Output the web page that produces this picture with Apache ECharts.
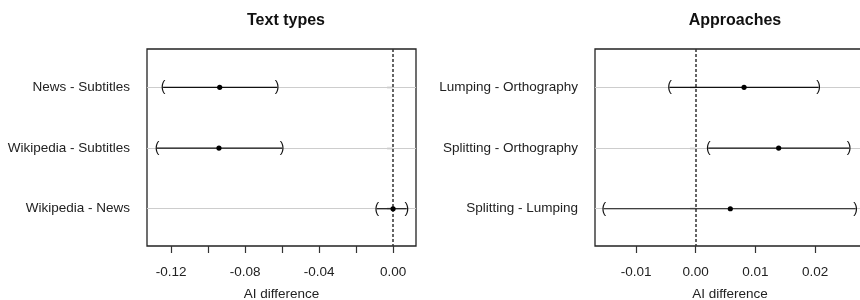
<!DOCTYPE html>
<html>
<head>
<meta charset="utf-8">
<script src="https://cdn.jsdelivr.net/npm/echarts@6/dist/echarts.min.js"></script>
<style>
  html, body { margin: 0; padding: 0; background: #fff; }
  #chart { width: 860px; height: 300px; }
</style>
</head>
<body>
<div id="chart"></div>
<script>
// left panel: text types
const textTypes = ['News - Subtitles', 'Wikipedia - Subtitles', 'Wikipedia - News'];
const textLow = [-0.1243, -0.1276, -0.0088];
const textEst = [-0.0937, -0.0941, 0.0];
const textHigh = [-0.0627, -0.0600, 0.0074];
const textTicks = [-0.12, -0.10, -0.08, -0.06, -0.04, -0.02, 0.00];
const textTickLabels = [-0.12, -0.08, -0.04, 0.00];

// right panel: approaches
const approaches = ['Lumping - Orthography', 'Splitting - Orthography', 'Splitting - Lumping'];
const apprLow = [-0.0044, 0.0021, -0.0154];
const apprEst = [0.0081, 0.0139, 0.0058];
const apprHigh = [0.0206, 0.0257, 0.0268];
const apprTicks = [-0.01, 0.00, 0.01, 0.02];

const rows = [1, 2, 3];
const font = 'Liberation Sans, Arial, Helvetica, sans-serif';

function renderCI(params, api) {
  const lo = api.coord([api.value(0), api.value(3)]);
  const mid = api.coord([api.value(1), api.value(3)]);
  const hi = api.coord([api.value(2), api.value(3)]);
  return {
    type: 'group',
    children: [
      { type: 'line', shape: { x1: lo[0], y1: lo[1], x2: hi[0], y2: hi[1] },
        style: { stroke: '#111', lineWidth: 1.2 }, z2: 3 },
      { type: 'text', x: lo[0], y: lo[1],
        style: { text: '(', fill: '#111', font: '14px ' + font, align: 'center', verticalAlign: 'middle' }, z2: 3 },
      { type: 'text', x: hi[0], y: hi[1],
        style: { text: ')', fill: '#111', font: '14px ' + font, align: 'center', verticalAlign: 'middle' }, z2: 3 },
      { type: 'circle', shape: { cx: mid[0], cy: mid[1], r: 2.6 },
        style: { fill: '#000' }, z2: 4 }
    ]
  };
}

function xAxisOf(idx, min, max, ticks, labels) {
  return {
    gridIndex: idx, type: 'value', min: min, max: max,
    name: 'AI difference', nameLocation: 'middle', nameGap: 41,
    nameTextStyle: { fontFamily: font, fontSize: 13.5, color: '#222' },
    axisLine: { show: false },
    splitLine: { show: false },
    axisTick: { show: true, length: 7, customValues: ticks, lineStyle: { color: '#333', width: 1.2 } },
    axisLabel: { customValues: labels, margin: 19, fontFamily: font, fontSize: 13.5, color: '#222',
      formatter: v => v.toFixed(2) }
  };
}

function yAxisOf(idx, cats) {
  return {
    gridIndex: idx, type: 'value', inverse: true, min: 0.368, max: 3.614,
    axisLine: { show: false },
    splitLine: { show: false },
    axisTick: { show: true, length: 6, customValues: rows, lineStyle: { color: '#333', width: 1.2 } },
    axisLabel: { customValues: rows, margin: 17, fontFamily: font, fontSize: 13.5, color: '#222',
      formatter: v => cats[Math.round(v) - 1] }
  };
}

function seriesOf(idx, lo, est, hi) {
  return [
    {
      // light row guides
      type: 'line', xAxisIndex: idx, yAxisIndex: idx, data: [],
      markLine: {
        z: 1, silent: true, symbol: 'none', label: { show: false }, animation: false,
        lineStyle: { color: '#cdcdcd', type: 'solid', width: 1 },
        data: rows.map(r => ({ yAxis: r }))
      }
    },
    {
      // dashed zero line
      type: 'line', xAxisIndex: idx, yAxisIndex: idx, data: [],
      markLine: {
        z: 2, silent: true, symbol: 'none', label: { show: false }, animation: false,
        lineStyle: { color: '#333', type: [3, 2], width: 1.5 },
        data: [{ xAxis: 0 }]
      }
    },
    {
      type: 'custom', xAxisIndex: idx, yAxisIndex: idx,
      renderItem: renderCI, clip: false, z: 10,
      data: rows.map((r, i) => [lo[i], est[i], hi[i], r])
    }
  ];
}

const chart = echarts.init(document.getElementById('chart'));
chart.setOption({
  animation: false,
  backgroundColor: '#fff',
  title: [
    { text: 'Text types', left: 281, top: 8, textAlign: 'center',
      textStyle: { fontFamily: font, fontSize: 16, fontWeight: 'bold', color: '#111' } },
    { text: 'Approaches', left: 730, top: 8, textAlign: 'center',
      textStyle: { fontFamily: font, fontSize: 16, fontWeight: 'bold', color: '#111' } }
  ],
  grid: [
    { left: 147, top: 49, width: 269, height: 197, outerBoundsMode: 'none', containLabel: false,
      show: true, borderColor: '#222', borderWidth: 1.3, backgroundColor: 'transparent' },
    { left: 595, top: 49, width: 270, height: 197, outerBoundsMode: 'none', containLabel: false,
      show: true, borderColor: '#222', borderWidth: 1.3, backgroundColor: 'transparent' }
  ],
  xAxis: [
    xAxisOf(0, -0.133, 0.0124, textTicks, textTickLabels),
    xAxisOf(1, -0.01688, 0.02837, apprTicks, apprTicks)
  ],
  yAxis: [
    yAxisOf(0, textTypes),
    yAxisOf(1, approaches)
  ],
  series: seriesOf(0, textLow, textEst, textHigh).concat(seriesOf(1, apprLow, apprEst, apprHigh))
});
</script>
</body>
</html>
